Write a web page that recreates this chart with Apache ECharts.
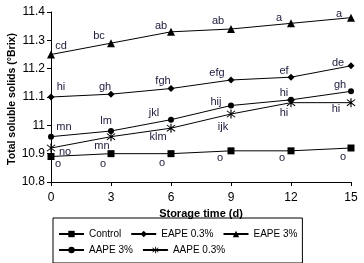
<!DOCTYPE html>
<html><head><meta charset="utf-8">
<script src="https://cdn.jsdelivr.net/npm/echarts@6/dist/echarts.min.js"></script>
<style>html,body{margin:0;padding:0;background:#fff}#c{width:364px;height:263px}</style>
</head><body><div id="c"></div>
<script>
const days = [0, 3, 6, 9, 12, 15];
const seriesNames = ['Control', 'EAPE 0.3%', 'EAPE 3%', 'AAPE 3%', 'AAPE 0.3%'];
const control = [10.89, 10.90, 10.90, 10.91, 10.91, 10.92];
const eape03 = [11.10, 11.11, 11.13, 11.16, 11.17, 11.21];
const eape3 = [11.25, 11.29, 11.33, 11.34, 11.36, 11.38];
const aape3 = [10.96, 10.98, 11.02, 11.07, 11.09, 11.12];
const aape03 = [10.92, 10.96, 10.99, 11.04, 11.08, 11.08];
const controlLetters = ['o', 'o', 'o', 'o', 'o', 'o'];
const eape03Letters = ['hi', 'gh', 'fgh', 'efg', 'ef', 'de'];
const eape3Letters = ['cd', 'bc', 'ab', 'ab', 'a', 'a'];
const aape3Letters = ['mn', 'lm', 'jkl', 'hij', 'hi', 'gh'];
const aape03Letters = ['no', 'mn', 'klm', 'ijk', 'hi', 'hi'];
const yTitle = 'Total soluble solids (°Brix)';
const xTitle = 'Storage time (d)';

// label offsets (style only)
const offControl = [[7,7],[-8,10],[-9,9],[-11,7],[-9,7],[-8,9]];
const offEape03 = [[10,-10],[-6,-7],[-8,-8],[-14,-7],[-7,-6],[-13,-3]];
const offEape3 = [[10,-9],[-12,-7],[-10,-6],[-13,-8],[-12,-5],[-12,-4]];
const offAape3 = [[13,-10],[-5,-10],[-17,-7],[-15,-4],[-7,-7],[-11,-6]];
const offAape03 = [[14,4],[-9,9],[-13,9],[-8,13],[-7,10],[-15,6]];

const FONT = '"Liberation Sans Narrow", "Liberation Sans", Arial, sans-serif';
const asterisk = 'path://M-0.6,-6 L0.6,-6 L0.6,6 L-0.6,6 Z M-4.7,-3.9 L-3.9,-4.7 L4.7,3.9 L3.9,4.7 Z M3.9,-4.7 L4.7,-3.9 L-3.9,4.7 L-4.7,3.9 Z';

function mk(name, vals, letters, offs, symbol, size) {
  return {
    name: name, type: 'line', clip: false,
    symbol: symbol, symbolSize: size,
    lineStyle: { color: '#000', width: 1 },
    itemStyle: { color: '#000' },
    data: days.map((d, i) => ({
      value: [d, vals[i]],
      label: { show: true, position: 'inside', offset: offs[i], formatter: letters[i],
               color: '#1a1a3a', fontSize: 11, fontFamily: FONT }
    }))
  };
}

const chart = echarts.init(document.getElementById('c'), null, { renderer: 'canvas' });
chart.setOption({
  animation: false,
  backgroundColor: '#fff',
  grid: { left: 51, right: 13, top: 12, bottom: 81, containLabel: false, outerBoundsMode: 'none' },
  graphic: [
    { type: 'text', x: 12, y: 99, rotation: Math.PI / 2,
      style: { text: yTitle, align: 'center', verticalAlign: 'middle', fill: '#000',
               font: 'bold 10.5px ' + FONT } }
  ],
  xAxis: {
    type: 'value', min: 0, max: 15, interval: 3,
    name: xTitle, nameLocation: 'middle', nameGap: 25,
    nameTextStyle: { fontWeight: 'bold', fontSize: 11, color: '#000', fontFamily: FONT },
    axisLine: { lineStyle: { color: '#000', width: 1 } },
    axisTick: { show: true, length: 4, lineStyle: { color: '#000' } },
    axisLabel: { color: '#000', fontSize: 12, fontFamily: FONT, margin: 10 },
    splitLine: { show: false }
  },
  yAxis: {
    type: 'value', min: 10.8, max: 11.4, interval: 0.1,
    axisLine: { show: true, lineStyle: { color: '#000', width: 1 } },
    axisTick: { show: true, length: 4, lineStyle: { color: '#000' } },
    axisLabel: { color: '#000', fontSize: 12, fontFamily: FONT, margin: 6,
                 formatter: v => String(Math.round(v * 10) / 10) },
    splitLine: { show: false }
  },
  legend: [
    { data: ['Control', 'EAPE 0.3%', 'EAPE 3%'], orient: 'horizontal',
      left: 53, top: 218, itemWidth: 25, itemHeight: 8, itemGap: 9,
      padding: [11, 5, 24, 5], borderColor: '#000', borderWidth: 1,
      textStyle: { color: '#000', fontSize: 10, fontFamily: FONT } },
    { data: ['AAPE 3%', 'AAPE 0.3%'], orient: 'horizontal',
      left: 53, top: 240, itemWidth: 25, itemHeight: 8, itemGap: 9,
      padding: [5, 5, 5, 5],
      textStyle: { color: '#000', fontSize: 10, fontFamily: FONT } }
  ],
  series: [
    mk(seriesNames[0], control, controlLetters, offControl, 'rect', 7),
    mk(seriesNames[1], eape03, eape03Letters, offEape03, 'diamond', 7),
    mk(seriesNames[2], eape3, eape3Letters, offEape3, 'triangle', 8),
    mk(seriesNames[3], aape3, aape3Letters, offAape3, 'circle', 6),
    mk(seriesNames[4], aape03, aape03Letters, offAape03, asterisk, 9)
  ]
});
</script></body></html>
